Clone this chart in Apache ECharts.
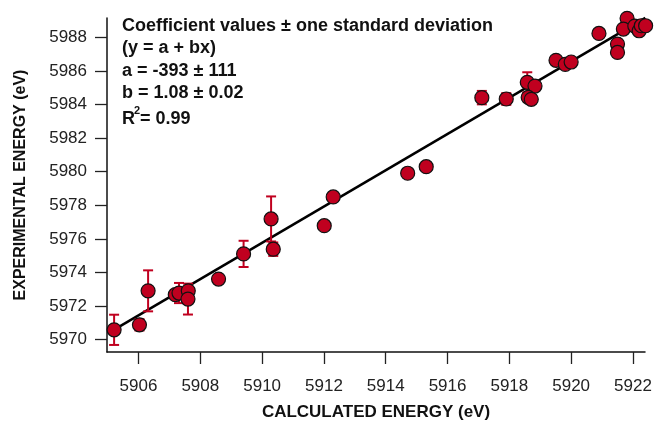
<!DOCTYPE html>
<html>
<head>
<meta charset="utf-8">
<script src="https://cdn.jsdelivr.net/npm/echarts@6/dist/echarts.min.js"></script>
<style>
  html, body { margin: 0; padding: 0; background: #ffffff; }
  #chart { width: 655px; height: 421px; }
</style>
</head>
<body>
<div id="chart"></div>
<script>
// ---- data ----
var calcEnergy = [5905.21, 5906.03, 5906.31, 5907.19, 5907.31, 5907.61, 5907.60, 5908.59, 5909.40, 5910.29, 5910.36, 5912.01, 5912.30, 5914.71, 5915.31, 5917.11, 5917.90, 5918.58, 5918.83, 5918.61, 5918.71, 5919.51, 5919.81, 5920.00, 5920.90, 5921.50, 5921.50, 5921.81, 5921.69, 5922.06, 5922.20, 5922.27, 5922.41];
var expEnergy = [5970.59, 5970.89, 5972.91, 5972.68, 5972.78, 5972.91, 5972.42, 5973.61, 5975.11, 5977.19, 5975.39, 5976.79, 5978.50, 5979.91, 5980.30, 5984.41, 5984.33, 5985.32, 5985.10, 5984.43, 5984.31, 5986.63, 5986.39, 5986.53, 5988.23, 5987.60, 5987.10, 5989.13, 5988.49, 5988.67, 5988.39, 5988.69, 5988.69];
var expError = [0.90, 0.34, 1.22, 0, 0.60, 0, 0.92, 0.12, 0.78, 1.34, 0.40, 0.16, 0, 0, 0, 0.40, 0.35, 0.60, 0, 0, 0, 0, 0, 0, 0, 0, 0, 0, 0, 0, 0, 0, 0];
var fitX = [5905.2, 5922.4];
var fitY = [5970.59, 5989.16];
var xTicks = [5906, 5908, 5910, 5912, 5914, 5916, 5918, 5920, 5922];
var yTicks = [5970, 5972, 5974, 5976, 5978, 5980, 5982, 5984, 5986, 5988];
var xTitle = 'CALCULATED ENERGY (eV)';
var yTitle = 'EXPERIMENTAL ENERGY (eV)';
var noteLines = ['Coefficient values \u00b1 one standard deviation', '(y = a + bx)', 'a = -393 \u00b1 111', 'b = 1.08 \u00b1 0.02'];

// ---- build ----
var FONT = '"Liberation Sans", Arial, sans-serif';
var RED = '#c0001f';
var points = calcEnergy.map(function (x, i) { return [x, expEnergy[i]]; });
var errData = calcEnergy.map(function (x, i) { return [x, expEnergy[i], expError[i]]; }).filter(function (d) { return d[2] > 0; });
var fitData = fitX.map(function (x, i) { return [x, fitY[i]]; });

var chart = echarts.init(document.getElementById('chart'), null, { renderer: 'canvas' });

var graphics = noteLines.map(function (t, i) {
  return {
    type: 'text', left: 122, top: 17 + i * 22.5,
    style: { text: t, font: 'bold 18px ' + FONT, fill: '#111' }
  };
});
graphics.push({ type: 'text', left: 122, top: 110, style: { text: 'R', font: 'bold 18px ' + FONT, fill: '#111' } });
graphics.push({ type: 'text', left: 134, top: 105, style: { text: '2', font: 'bold 11px ' + FONT, fill: '#111' } });
graphics.push({ type: 'text', left: 140, top: 110, style: { text: '= 0.99', font: 'bold 18px ' + FONT, fill: '#111' } });

function plain(v) { return String(v); }

var axisCommon = {
  type: 'value',
  nameLocation: 'middle',
  nameTextStyle: { fontFamily: FONT, fontWeight: 'bold', fontSize: 17, color: '#111' },
  axisLine: { show: true, onZero: false, lineStyle: { color: '#111', width: 1.5 } },
  axisTick: { show: true, inside: false, length: 12, lineStyle: { color: '#222', width: 1.3 } },
  axisLabel: { fontFamily: FONT, fontSize: 17, color: '#222', formatter: plain },
  splitLine: { show: false }
};

chart.setOption({
  animation: false,
  backgroundColor: '#ffffff',
  grid: { left: 107, right: 10, top: 18, bottom: 69, containLabel: false, outerBoundsMode: 'none' },
  xAxis: Object.assign({}, axisCommon, {
    min: 5904.98, max: 5922.39,
    name: xTitle, nameGap: 52,
    axisTick: Object.assign({}, axisCommon.axisTick, { customValues: xTicks }),
    axisLabel: Object.assign({}, axisCommon.axisLabel, { customValues: xTicks, margin: 26 })
  }),
  yAxis: Object.assign({}, axisCommon, {
    min: 5969.27, max: 5989.15,
    name: yTitle, nameGap: 78,
    axisTick: Object.assign({}, axisCommon.axisTick, { customValues: yTicks }),
    axisLabel: Object.assign({}, axisCommon.axisLabel, { customValues: yTicks, margin: 20 }),
    nameTextStyle: Object.assign({}, axisCommon.nameTextStyle, { fontSize: 16 })
  }),
  graphic: graphics,
  series: [
    {
      type: 'line', data: fitData, symbol: 'none', z: 1, clip: false,
      lineStyle: { color: '#000', width: 2.5 }
    },
    {
      type: 'custom', z: 2, clip: false,
      data: errData,
      renderItem: function (params, api) {
        var x = api.value(0), y = api.value(1), e = api.value(2);
        var top = api.coord([x, y + e]);
        var bot = api.coord([x, y - e]);
        var hw = 5;
        var st = { stroke: RED, lineWidth: 2 };
        return {
          type: 'group',
          children: [
            { type: 'line', shape: { x1: top[0], y1: top[1], x2: bot[0], y2: bot[1] }, style: st },
            { type: 'line', shape: { x1: top[0] - hw, y1: top[1], x2: top[0] + hw, y2: top[1] }, style: st },
            { type: 'line', shape: { x1: bot[0] - hw, y1: bot[1], x2: bot[0] + hw, y2: bot[1] }, style: st }
          ]
        };
      }
    },
    {
      type: 'scatter', z: 3, clip: false,
      data: points, symbol: 'circle', symbolSize: 14,
      itemStyle: { color: RED, borderColor: '#111', borderWidth: 1.2, opacity: 1 }
    }
  ]
});
</script>
</body>
</html>
